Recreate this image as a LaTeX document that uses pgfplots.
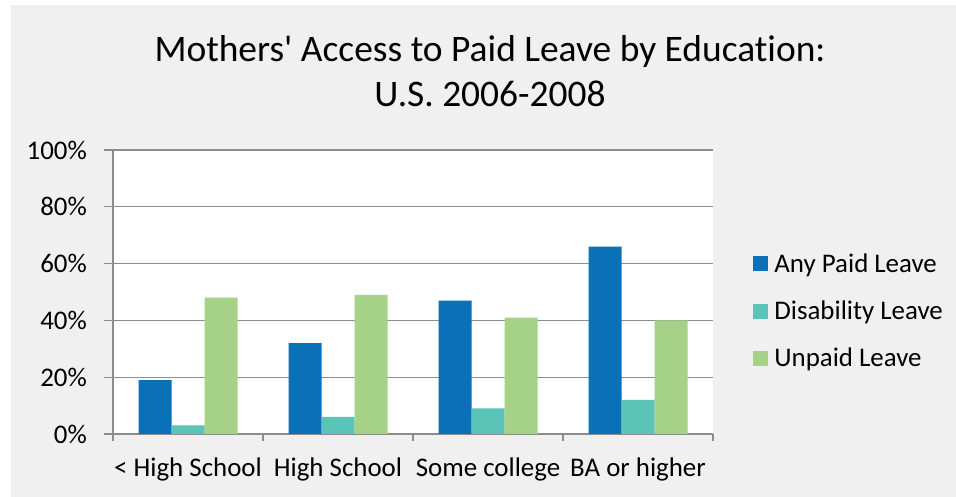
\documentclass[border=0pt]{standalone}
\usepackage{fontspec}
\setmainfont{Carlito}[Ligatures={NoCommon}]
\newfontfamily\titlefont{Carlito}[Ligatures={NoCommon}]
\usepackage{pgfplots}
\pgfplotsset{compat=1.18}
\definecolor{bg}{HTML}{F0F0F0}
\definecolor{cblue}{HTML}{0A70B8}
\definecolor{cteal}{HTML}{5BC3B7}
\definecolor{cgreen}{HTML}{A5D286}
\definecolor{grd}{HTML}{8C8C8C}
\begin{document}
\begin{tikzpicture}[x=1bp,y=1bp]
\path[use as bounding box] (0,0) rectangle (956,497);
\fill[white] (0,0) rectangle (956,497);
\fill[bg] (11,0) rectangle (956,492);
\node[anchor=base, font=\titlefont\fontsize{37.6}{40}\selectfont] at (490,435) {Mothers' Access to Paid Leave by Education:};
\node[anchor=base, font=\titlefont\fontsize{37.6}{40}\selectfont] at (490,390) {U.S. 2006-2008};
\begin{axis}[
  at={(113bp,63bp)}, anchor=south west,
  scale only axis, width=600bp, height=284bp,
  xmin=0, xmax=4, ymin=0, ymax=100,
  axis x line*=bottom, axis y line*=left,
  axis line style={grd, line width=1.2pt},
  axis background/.style={fill=white},
  ybar=0pt, bar width=33bp,
  xtick={0.5,1.5,2.5,3.5},
  xticklabels={{< High School},{High School},{Some college},{BA or higher}},
  major x tick style={draw=none},
  minor xtick={0,1,2,3,4},
  minor x tick style={grd, line width=1.2pt},
  minor tick length=7bp,
  ytick={0,20,40,60,80,100},
  yticklabels={0\%,20\%,40\%,60\%,80\%,100\%},
  major y tick style={grd, line width=1.2pt},
  major tick length=9bp,
  tick align=outside,
  ymajorgrids, grid style={grd, line width=1.2pt},
  tick label style={font=\fontsize{27}{30}\selectfont},
  ticklabel style={inner sep=0pt},
  yticklabel style={xshift=-17bp},
  xticklabel style={yshift=-15bp},
  legend style={at={(1.062,0.433)}, anchor=west, draw=none, fill=none,
    font=\fontsize{27}{30}\selectfont, row sep=23bp,
    legend cell align=left},
  legend image code/.code={\fill[#1] (0bp,-7.5bp) rectangle (15bp,7.5bp); \path (19bp,0bp);},
  clip=false,
]
\addplot[draw=none, fill=cblue] coordinates {(0.5,19) (1.5,32) (2.5,47) (3.5,66)};
\addplot[draw=none, fill=cteal] coordinates {(0.5,3) (1.5,6) (2.5,9) (3.5,12)};
\addplot[draw=none, fill=cgreen] coordinates {(0.5,48) (1.5,49) (2.5,41) (3.5,40)};
\legend{Any Paid Leave, Disability Leave, Unpaid Leave}
\end{axis}
\end{tikzpicture}
\end{document}
